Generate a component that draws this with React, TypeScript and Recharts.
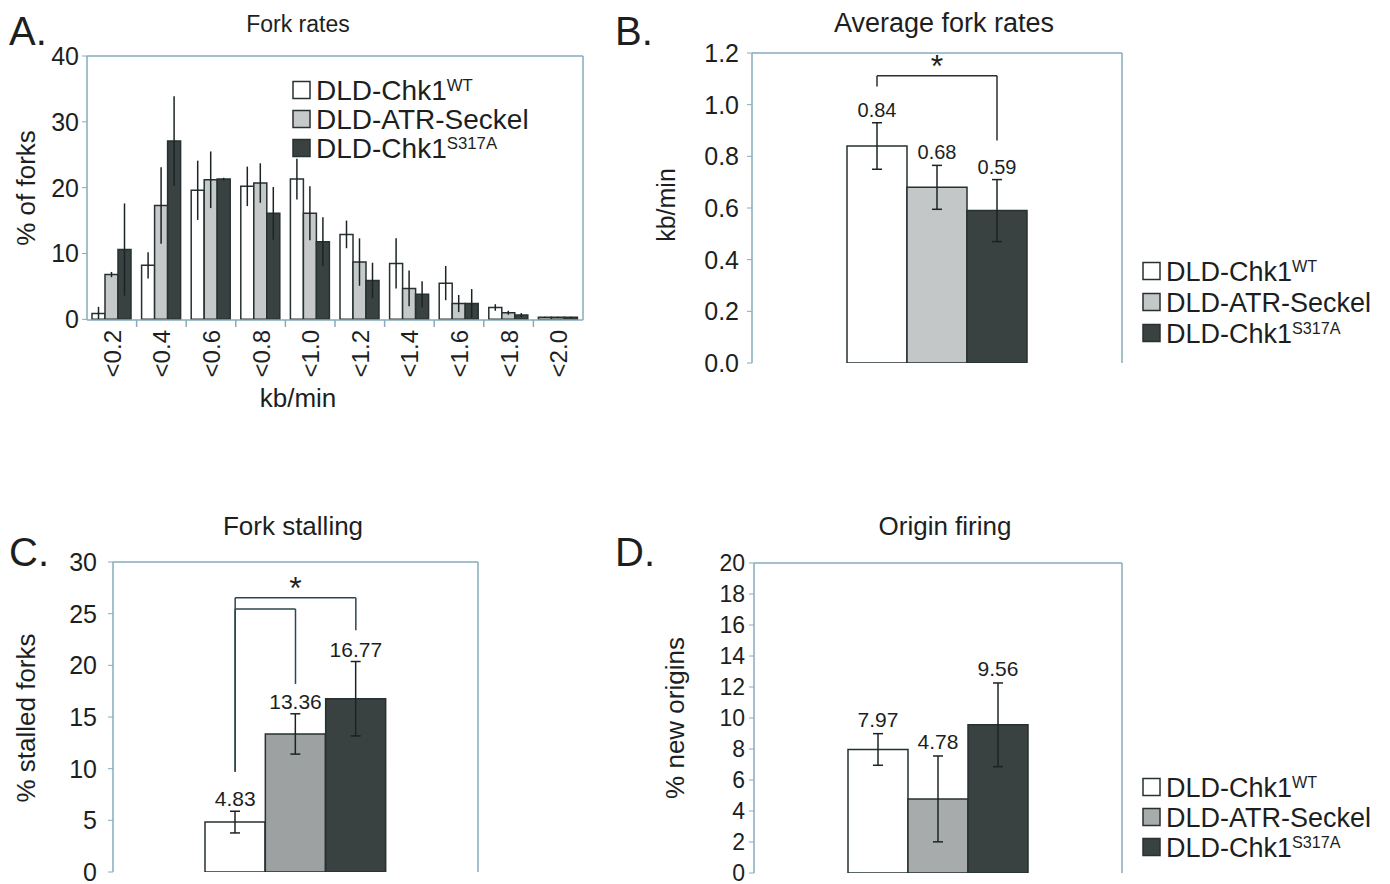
import React from 'react';
import { BarChart, Bar, XAxis, YAxis, ErrorBar, Cell, ReferenceLine, ReferenceDot, CartesianGrid } from 'recharts';

const FONT = '"Liberation Sans", Arial, Helvetica, sans-serif';
const INK = '#1d1f1f';
const FRAME = '#86abbd';
const EDGE = '#263131';
const ERR_INK = '#1b2424';
const WHITE = '#ffffff';
const DARK = '#3a4141';
const BRACKET = '#2c4650';

// ---------- Panel A: fork rate distribution ----------
const rateBins = ['<0.2', '<0.4', '<0.6', '<0.8', '<1.0', '<1.2', '<1.4', '<1.6', '<1.8', '<2.0'];
const rateWT = [0.9, 8.2, 19.6, 20.2, 21.3, 12.9, 8.5, 5.5, 1.8, 0.3];
const rateWTErr = [1.0, 2.0, 4.5, 3.0, 3.1, 2.1, 3.8, 2.6, 0.5, 0.1];
const rateSeckel = [6.8, 17.3, 21.2, 20.7, 16.1, 8.7, 4.7, 2.4, 1.0, 0.3];
const rateSeckelErr = [0.4, 5.8, 4.3, 3.0, 4.1, 3.6, 2.7, 1.3, 0.3, 0.1];
const rateS317A = [10.6, 27.1, 21.3, 16.1, 11.8, 5.9, 3.8, 2.4, 0.65, 0.3];
const rateS317AErr = [7.0, 6.8, 0.2, 4.0, 3.7, 2.7, 2.0, 2.2, 0.3, 0.1];
const rateTicks = [0, 10, 20, 30, 40];
const rateColors = [WHITE, '#c6c9c9', DARK];

// ---------- strains ----------
const strainKeys = ['WT', 'Seckel', 'S317A'];
const strainNames = ['DLD-Chk1', 'DLD-ATR-Seckel', 'DLD-Chk1'];
const strainSups = ['WT', '', 'S317A'];

// ---------- Panel B: average fork rates ----------
const avgRate = [0.84, 0.68, 0.59];
const avgRateErr = [0.09, 0.085, 0.12];
const avgRateTicks = [0, 0.2, 0.4, 0.6, 0.8, 1.0, 1.2];
const avgRateColors = [WHITE, '#c4c7c7', DARK];
const avgRateBracket = [1.07, 1.112, 0.861]; // WT -> S317A
const avgRateStar = 1.15;

// ---------- Panel C: fork stalling ----------
const stalled = [4.83, 13.36, 16.77];
const stalledErr = [1.05, 1.95, 3.6];
const stalledTicks = [0, 5, 10, 15, 20, 25, 30];
const stalledColors = [WHITE, '#9da1a1', DARK];
const stalledOuterBracket = [9.7, 26.55, 23.4]; // WT -> S317A
const stalledInnerBracket = [9.7, 25.45, 18.2]; // WT -> Seckel
const stalledStar = 27.5;

// ---------- Panel D: origin firing ----------
const origins = [7.97, 4.78, 9.56];
const originsErr = [1.02, 2.77, 2.7];
const originsTicks = [0, 2, 4, 6, 8, 10, 12, 14, 16, 18, 20];
const originsColors = [WHITE, '#a8abab', DARK];

const rateData = rateBins.map((bin, i) => ({
  bin,
  wt: rateWT[i],
  wtErr: rateWTErr[i],
  seckel: rateSeckel[i],
  seckelErr: rateSeckelErr[i],
  s317a: rateS317A[i],
  s317aErr: rateS317AErr[i],
}));

const topEdge = (args: any) => {
  const o = args && args.offset;
  return o && typeof o.top === 'number' ? [o.top] : [];
};
const rightEdge = (args: any) => {
  const o = args && args.offset;
  return o && typeof o.left === 'number' ? [o.left + o.width] : [];
};

function FrameGrid() {
  return null;
}

function RateTick(props: any) {
  const { x, y, payload, index } = props;
  const half = payload && typeof payload.offset === 'number' && payload.offset > 0 ? payload.offset : 24.8;
  return (
    <g>
      {index > 0 && (
        <line x1={x - half} x2={x - half} y1={y} y2={y + 7} stroke={FRAME} strokeWidth={1.5} />
      )}
      <text
        transform={`translate(${x + 9},${y + 10}) rotate(-90)`}
        textAnchor="end"
        fontSize={24}
        fill={INK}
        fontFamily={FONT}
      >
        {payload.value}
      </text>
    </g>
  );
}

function StrainLegend({ x, y, colors, fontSize, rowGap }: any) {
  const sq = 17;
  return (
    <g>
      {strainNames.map((name, i) => {
        const cy = y + i * rowGap;
        return (
          <g key={i}>
            <rect x={x} y={cy - sq / 2} width={sq} height={sq} fill={colors[i]} stroke={EDGE} strokeWidth={1.5} />
            <text x={x + sq + 6} y={cy + fontSize * 0.36} fontSize={fontSize} fill={INK} fontFamily={FONT}>
              {name}
              {strainSups[i] ? (
                <tspan fontSize={fontSize * 0.6} dy={-fontSize * 0.32}>
                  {strainSups[i]}
                </tspan>
              ) : null}
            </text>
          </g>
        );
      })}
    </g>
  );
}

type StrainChartProps = {
  left: number;
  top: number;
  width: number;
  height: number;
  margin: { top: number; right: number; bottom: number; left: number };
  yWidth: number;
  pad: number;
  domain: [number, number];
  ticks: number[];
  digits: number;
  tickFont: number;
  tickMargin: number;
  values: number[];
  errs: number[];
  colors: string[];
  labelFont: number;
  labelOffset: number;
  brackets: { to: number; ys: number[]; color: string }[];
  star: number;
};

function StrainChart(p: StrainChartProps) {
  const data = strainKeys.map((key, i) => ({ key, value: p.values[i], err: p.errs[i] }));
  return (
    <div style={{ position: 'absolute', left: p.left, top: p.top }}>
      <BarChart
        width={p.width}
        height={p.height}
        data={data}
        margin={p.margin}
        barCategoryGap={0}
        barGap={0}
        style={{ fontFamily: FONT }}
      >
        <CartesianGrid
          stroke={FRAME}
          strokeWidth={1.5}
          horizontalCoordinatesGenerator={topEdge}
          verticalCoordinatesGenerator={rightEdge}
        />
        <XAxis
          dataKey="key"
          padding={{ left: p.pad, right: p.pad }}
          tick={false}
          tickLine={false}
          height={0}
          axisLine={{ stroke: FRAME, strokeWidth: 1.5 }}
        />
        <YAxis
          width={p.yWidth}
          domain={p.domain}
          ticks={p.ticks}
          interval={0}
          allowDataOverflow
          tickSize={5}
          tickMargin={p.tickMargin}
          tick={{ fontSize: p.tickFont, fill: INK, fontFamily: FONT }}
          tickFormatter={(v: number) => (p.digits > 0 ? v.toFixed(p.digits) : String(v))}
          axisLine={{ stroke: FRAME, strokeWidth: 1.5 }}
          tickLine={{ stroke: FRAME }}
        />
        <Bar dataKey="value" stroke={EDGE} strokeWidth={1.5} isAnimationActive={false}>
          {data.map((d, i) => (
            <Cell key={d.key} fill={p.colors[i]} />
          ))}
          <ErrorBar dataKey="err" direction="y" width={5} stroke={ERR_INK} strokeWidth={1.5} />
        </Bar>
        {p.brackets.map((b, bi) => [
          <ReferenceLine
            key={`l${bi}`}
            ifOverflow="visible"
            stroke={b.color}
            strokeWidth={1.5}
            segment={[
              { x: strainKeys[0], y: b.ys[0] },
              { x: strainKeys[0], y: b.ys[1] },
            ]}
          />,
          <ReferenceLine
            key={`h${bi}`}
            ifOverflow="visible"
            stroke={b.color}
            strokeWidth={1.5}
            segment={[
              { x: strainKeys[0], y: b.ys[1] },
              { x: strainKeys[b.to], y: b.ys[1] },
            ]}
          />,
          <ReferenceLine
            key={`r${bi}`}
            ifOverflow="visible"
            stroke={b.color}
            strokeWidth={1.5}
            segment={[
              { x: strainKeys[b.to], y: b.ys[1] },
              { x: strainKeys[b.to], y: b.ys[2] },
            ]}
          />,
        ])}
        {p.star > 0 && (
          <ReferenceDot
            x={strainKeys[1]}
            y={p.star}
            r={0}
            fill="none"
            stroke="none"
            ifOverflow="visible"
            label={{ value: '*', position: 'center', fontSize: 32, fill: INK, fontFamily: FONT }}
          />
        )}
        {data.map((d, i) => (
          <ReferenceDot
            key={`lab${i}`}
            x={d.key}
            y={d.value + d.err}
            r={0}
            fill="none"
            stroke="none"
            ifOverflow="visible"
            label={{
              value: d.value.toFixed(2),
              position: 'top',
              offset: p.labelOffset,
              fontSize: p.labelFont,
              fill: INK,
              fontFamily: FONT,
            }}
          />
        ))}
      </BarChart>
    </div>
  );
}

export default function App() {
  return (
    <div
      style={{
        position: 'absolute',
        left: 0,
        top: 0,
        width: 1390,
        height: 884,
        background: '#ffffff',
        overflow: 'hidden',
        fontFamily: FONT,
      }}
    >
      {/* Panel A */}
      <div style={{ position: 'absolute', left: 0, top: 0 }}>
        <BarChart
          width={600}
          height={420}
          data={rateData}
          margin={{ top: 56, right: 17, left: 0, bottom: 0 }}
          barCategoryGap={5}
          barGap={0}
          style={{ fontFamily: FONT }}
        >
          <CartesianGrid
            stroke={FRAME}
            strokeWidth={1.5}
            horizontalCoordinatesGenerator={topEdge}
            verticalCoordinatesGenerator={rightEdge}
          />
          <XAxis
            dataKey="bin"
            height={100}
            interval={0}
            tickLine={false}
            tickSize={0}
            tickMargin={0}
            tick={<RateTick />}
            axisLine={{ stroke: FRAME, strokeWidth: 1.5 }}
          />
          <YAxis
            width={87}
            domain={[0, 40]}
            ticks={rateTicks}
            interval={0}
            tickSize={5}
            tickMargin={3}
            tick={{ fontSize: 25, fill: INK, fontFamily: FONT }}
            axisLine={{ stroke: FRAME, strokeWidth: 1.5 }}
            tickLine={{ stroke: FRAME }}
          />
          <Bar dataKey="wt" fill={rateColors[0]} stroke={EDGE} strokeWidth={1.5} isAnimationActive={false}>
            <ErrorBar dataKey="wtErr" direction="y" width={0} stroke={ERR_INK} strokeWidth={1.5} />
          </Bar>
          <Bar dataKey="seckel" fill={rateColors[1]} stroke={EDGE} strokeWidth={1.5} isAnimationActive={false}>
            <ErrorBar dataKey="seckelErr" direction="y" width={0} stroke={ERR_INK} strokeWidth={1.5} />
          </Bar>
          <Bar dataKey="s317a" fill={rateColors[2]} stroke={EDGE} strokeWidth={1.5} isAnimationActive={false}>
            <ErrorBar dataKey="s317aErr" direction="y" width={0} stroke={ERR_INK} strokeWidth={1.5} />
          </Bar>
        </BarChart>
      </div>

      {/* Panel B */}
      <StrainChart
        left={600}
        top={0}
        width={790}
        height={420}
        margin={{ top: 53, right: 268, bottom: 57, left: 0 }}
        yWidth={152}
        pad={95}
        domain={[0, 1.2]}
        ticks={avgRateTicks}
        digits={1}
        tickFont={25}
        tickMargin={8}
        values={avgRate}
        errs={avgRateErr}
        colors={avgRateColors}
        labelFont={20}
        labelOffset={6}
        brackets={[{ to: 2, ys: avgRateBracket, color: '#2a2f2f' }]}
        star={avgRateStar}
      />

      {/* Panel C */}
      <StrainChart
        left={0}
        top={440}
        width={600}
        height={444}
        margin={{ top: 122, right: 122, bottom: 12, left: 0 }}
        yWidth={113}
        pad={92}
        domain={[0, 30]}
        ticks={stalledTicks}
        digits={0}
        tickFont={25}
        tickMargin={11}
        values={stalled}
        errs={stalledErr}
        colors={stalledColors}
        labelFont={21}
        labelOffset={5}
        brackets={[
          { to: 2, ys: stalledOuterBracket, color: BRACKET },
          { to: 1, ys: stalledInnerBracket, color: BRACKET },
        ]}
        star={stalledStar}
      />

      {/* Panel D */}
      <StrainChart
        left={600}
        top={440}
        width={790}
        height={444}
        margin={{ top: 123, right: 268, bottom: 11, left: 0 }}
        yWidth={154}
        pad={94}
        domain={[0, 20]}
        ticks={originsTicks}
        digits={0}
        tickFont={23}
        tickMargin={4}
        values={origins}
        errs={originsErr}
        colors={originsColors}
        labelFont={21}
        labelOffset={7}
        brackets={[]}
        star={0}
      />

      {/* Text overlay: panel letters, titles, axis titles, legends */}
      <svg
        width={1390}
        height={884}
        style={{ position: 'absolute', left: 0, top: 0, pointerEvents: 'none' }}
        fontFamily={FONT}
      >
        <text x={9} y={45} fontSize={40} fill={INK}>A.</text>
        <text x={615} y={45} fontSize={40} fill={INK}>B.</text>
        <text x={9} y={566} fontSize={40} fill={INK}>C.</text>
        <text x={615} y={566} fontSize={40} fill={INK}>D.</text>

        <text x={298} y={32} fontSize={23} fill={INK} textAnchor="middle">Fork rates</text>
        <text x={944} y={32} fontSize={27} fill={INK} textAnchor="middle">Average fork rates</text>
        <text x={293} y={535} fontSize={26} fill={INK} textAnchor="middle">Fork stalling</text>
        <text x={945} y={535} fontSize={26} fill={INK} textAnchor="middle">Origin firing</text>

        <text x={298} y={407} fontSize={26} fill={INK} textAnchor="middle">kb/min</text>
        <text transform="translate(35,188) rotate(-90)" fontSize={26} fill={INK} textAnchor="middle">% of forks</text>
        <text transform="translate(675,205) rotate(-90)" fontSize={25} fill={INK} textAnchor="middle">kb/min</text>
        <text transform="translate(35,718) rotate(-90)" fontSize={26} fill={INK} textAnchor="middle">% stalled forks</text>
        <text transform="translate(684,718) rotate(-90)" fontSize={26} fill={INK} textAnchor="middle">% new origins</text>

        <StrainLegend x={293} y={90} colors={rateColors} fontSize={28} rowGap={29} />
        <StrainLegend x={1143} y={271} colors={avgRateColors} fontSize={27} rowGap={31} />
        <StrainLegend x={1143} y={787} colors={originsColors} fontSize={27} rowGap={30} />
      </svg>
    </div>
  );
}
